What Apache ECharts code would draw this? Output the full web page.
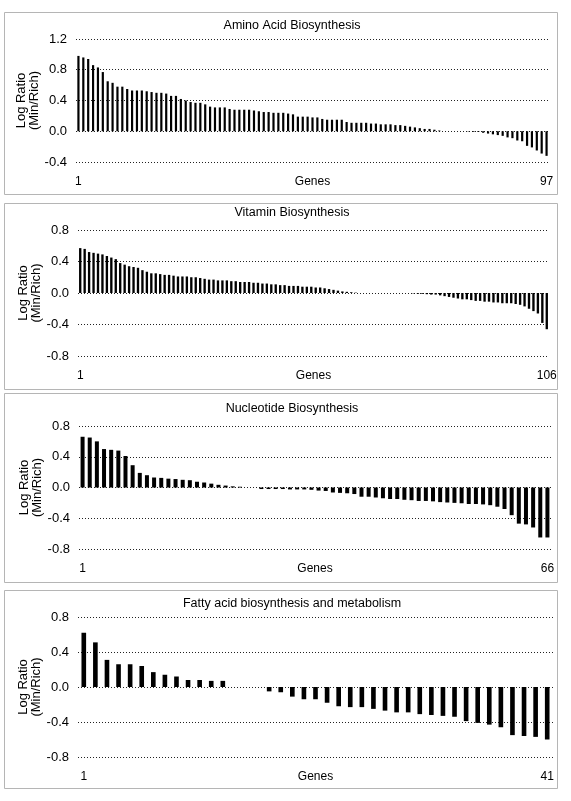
<!DOCTYPE html>
<html><head><meta charset="utf-8">
<script src="https://cdn.jsdelivr.net/npm/echarts@6/dist/echarts.min.js"></script>
<style>html,body{margin:0;padding:0;background:#fff}#c{width:571px;height:801px}</style>
</head><body><div id="c"></div>
<script>
// ---- data ----
const panelTitles = ['Amino Acid Biosynthesis', 'Vitamin Biosynthesis', 'Nucleotide Biosynthesis', 'Fatty acid biosynthesis and metabolism'];
const xAxisName = 'Genes';
const yAxisName = 'Log Ratio\n(Min/Rich)';
const yMins = [-0.4, -0.8, -0.8, -0.8];
const yMaxs = [1.2, 0.8, 0.8, 0.8];
const yStep = 0.4;

const aminoAcid = [
  0.98, 0.96, 0.94, 0.86, 0.83, 0.77, 0.65, 0.63, 0.58, 0.58,
  0.55, 0.53, 0.53, 0.53, 0.52, 0.51, 0.50, 0.50, 0.49, 0.46,
  0.46, 0.42, 0.40, 0.38, 0.37, 0.37, 0.35, 0.32, 0.31, 0.31,
  0.31, 0.29, 0.28, 0.28, 0.28, 0.28, 0.27, 0.26, 0.25, 0.25,
  0.24, 0.24, 0.24, 0.23, 0.22, 0.19, 0.19, 0.19, 0.18, 0.18,
  0.16, 0.15, 0.15, 0.15, 0.15, 0.12, 0.11, 0.11, 0.11, 0.11,
  0.10, 0.10, 0.09, 0.09, 0.09, 0.08, 0.08, 0.07, 0.06, 0.05,
  0.04, 0.03, 0.03, 0.02, 0.01, 0, 0, 0, 0, 0,
  -0.005, -0.01, -0.01, -0.02, -0.03, -0.04, -0.05, -0.06, -0.08, -0.09,
  -0.12, -0.13, -0.19, -0.21, -0.25, -0.29, -0.32
];
const vitamin = [
  0.57, 0.56, 0.52, 0.51, 0.50, 0.49, 0.47, 0.45, 0.43, 0.38,
  0.36, 0.34, 0.33, 0.32, 0.29, 0.27, 0.25, 0.25, 0.24, 0.23,
  0.23, 0.22, 0.21, 0.21, 0.21, 0.20, 0.20, 0.19, 0.18, 0.17,
  0.17, 0.16, 0.16, 0.16, 0.15, 0.15, 0.14, 0.14, 0.14, 0.13,
  0.13, 0.12, 0.12, 0.11, 0.11, 0.10, 0.10, 0.09, 0.09, 0.09,
  0.08, 0.08, 0.08, 0.07, 0.07, 0.06, 0.05, 0.04, 0.03, 0.02,
  0.015, 0.01, 0.005, 0, 0, 0, 0, 0, 0, 0, 0, 0, 0, 0, 0,
  -0.005, -0.01, -0.01, -0.015, -0.02, -0.02, -0.03, -0.04, -0.05, -0.06,
  -0.07, -0.08, -0.08, -0.09, -0.10, -0.10, -0.11, -0.11, -0.12, -0.12,
  -0.13, -0.13, -0.13, -0.14, -0.15, -0.17, -0.20, -0.23, -0.26, -0.38,
  -0.46
];
const nucleotide = [
  0.66, 0.65, 0.60, 0.50, 0.49, 0.48, 0.41, 0.29, 0.19, 0.16,
  0.13, 0.125, 0.115, 0.11, 0.10, 0.095, 0.075, 0.065, 0.05, 0.035,
  0.025, 0.015, 0.01, 0, 0,
  -0.02, -0.02, -0.02, -0.02, -0.025, -0.025, -0.025, -0.03, -0.04, -0.045,
  -0.065, -0.07, -0.075, -0.085, -0.12, -0.12, -0.13, -0.14, -0.15, -0.15,
  -0.16, -0.165, -0.175, -0.175, -0.18, -0.19, -0.195, -0.20, -0.205, -0.215,
  -0.215, -0.22, -0.23, -0.25, -0.28, -0.36, -0.47, -0.48, -0.52, -0.65,
  -0.65
];
const fattyAcid = [
  0.62, 0.51, 0.31, 0.26, 0.26, 0.24, 0.17, 0.14, 0.12, 0.08,
  0.08, 0.07, 0.07, 0, 0, 0,
  -0.05, -0.06, -0.11, -0.14, -0.14, -0.18, -0.22, -0.23, -0.23, -0.25,
  -0.27, -0.29, -0.29, -0.31, -0.32, -0.33, -0.34, -0.39, -0.41, -0.43,
  -0.46, -0.55, -0.56, -0.57, -0.60
];
const panelData = [aminoAcid, vitamin, nucleotide, fattyAcid];

// ---- layout (positions/styles only) ----
const boxes = [[4, 12, 553, 182], [4, 203, 553, 186], [4, 393, 553, 189], [4, 590, 553, 198]];
const titleTops = [14, 201, 397, 592];
const grids = [
  {left: 76, width: 473, top: 39, height: 123},
  {left: 78, width: 471, top: 230, height: 126},
  {left: 79, width: 472, top: 426, height: 123},
  {left: 78, width: 475, top: 617, height: 140}
];
const gaps = ['55%', '47%', '44%', '60%'];
const FONT = '"Liberation Sans", Arial, sans-serif';

const chart = echarts.init(document.getElementById('c'), null, {renderer: 'canvas'});
const option = {
  backgroundColor: '#fff',
  animation: false,
  title: panelTitles.map((t, i) => ({
    text: t, left: 287, top: titleTops[i], textAlign: 'center',
    textStyle: {fontFamily: FONT, fontSize: 12.5, fontWeight: 'normal', color: '#000'}
  })),
  graphic: boxes.map(b => ({
    type: 'rect', shape: {x: b[0] + 0.5, y: b[1] + 0.5, width: b[2], height: b[3]},
    style: {fill: 'none', stroke: '#b5b5b5', lineWidth: 1}, silent: true, z: -1
  })),
  grid: grids.map(g => Object.assign({containLabel: false}, g)),
  xAxis: panelData.map((d, i) => ({
    type: 'category', gridIndex: i,
    data: d.map((_, k) => String(k + 1)),
    position: 'bottom',
    axisLine: {show: false, onZero: false}, axisTick: {show: false},
    axisLabel: {
      interval: (idx) => idx === 0 || idx === d.length - 1,
      margin: 14, fontFamily: FONT, fontSize: 12, color: '#000'
    },
    name: xAxisName, nameLocation: 'middle', nameGap: 14, nameMoveOverlap: false,
    nameTextStyle: {fontFamily: FONT, fontSize: 12, color: '#000', verticalAlign: 'top'}
  })),
  yAxis: panelData.map((d, i) => ({
    type: 'value', gridIndex: i, min: yMins[i], max: yMaxs[i], interval: yStep,
    axisLine: {show: false}, axisTick: {show: false},
    axisLabel: {formatter: v => v.toFixed(1), margin: 9, fontFamily: FONT, fontSize: 13, color: '#000'},
    splitLine: {show: true, lineStyle: {color: '#222', width: 1, type: [1, 2]}},
    name: yAxisName, nameLocation: 'middle', nameGap: 35, nameRotate: 90, nameMoveOverlap: false,
    nameTextStyle: {fontFamily: FONT, fontSize: 13, color: '#000', lineHeight: 13}
  })),
  series: panelData.map((d, i) => ({
    type: 'bar', xAxisIndex: i, yAxisIndex: i, data: d,
    barCategoryGap: gaps[i], itemStyle: {color: '#000'}, silent: true
  }))
};
chart.setOption(option);
</script></body></html>
